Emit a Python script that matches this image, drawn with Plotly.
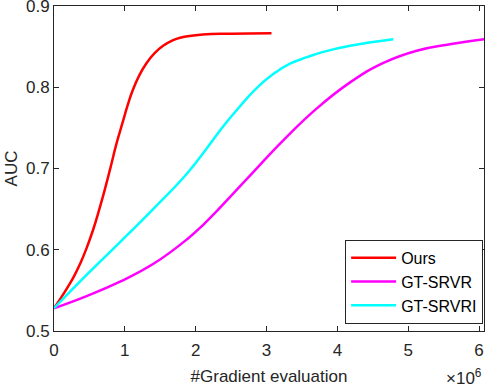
import plotly.graph_objects as go

# AUC vs number of gradient evaluations (x in units of 1e6)
ours_x = [0, 0.1, 0.2, 0.28, 0.38, 0.46, 0.55, 0.64, 0.72, 0.8, 0.88, 0.97, 1.04, 1.11, 1.2,
          1.3, 1.42, 1.54, 1.66, 1.78, 2.1, 2.5, 3.07]
ours_y = [0.528, 0.541, 0.555, 0.567, 0.585, 0.602, 0.624, 0.650, 0.675, 0.702, 0.730, 0.757, 0.778, 0.796, 0.814,
          0.829, 0.842, 0.851, 0.857, 0.861, 0.865, 0.866, 0.8665]

srvr_x = [0, 0.46, 0.94, 1.41, 1.88, 2.11, 2.29, 2.72, 3.24, 3.71, 4.18, 4.65, 5.12, 5.59, 6.07]
srvr_y = [0.528, 0.543, 0.561, 0.583, 0.613, 0.631, 0.647, 0.687, 0.735, 0.774, 0.806, 0.830, 0.845, 0.853, 0.859]

srvri_x = [0, 0.46, 0.94, 1.41, 1.86, 2.15, 2.39, 2.62, 2.86, 3.09, 3.33, 3.57, 3.80, 4.18, 4.79]
srvri_y = [0.528, 0.569, 0.610, 0.651, 0.692, 0.724, 0.752, 0.776, 0.799, 0.816, 0.829, 0.837, 0.8435, 0.851, 0.859]

axis_col = "#262626"
font = "Liberation Sans, Arial, sans-serif"

fig = go.Figure()
fig.add_trace(go.Scatter(x=ours_x, y=ours_y, mode="lines", name="Ours",
                         line=dict(color="#ff0000", width=2.5, shape="spline", smoothing=1.3)))
fig.add_trace(go.Scatter(x=srvr_x, y=srvr_y, mode="lines", name="GT-SRVR",
                         line=dict(color="#ff00ff", width=2.5, shape="spline", smoothing=1.3)))
fig.add_trace(go.Scatter(x=srvri_x, y=srvri_y, mode="lines", name="GT-SRVRI",
                         line=dict(color="#00ffff", width=2.5, shape="spline", smoothing=1.3)))

axis_common = dict(
    showgrid=False, zeroline=False, showline=True, linecolor=axis_col, linewidth=1,
    mirror="ticks", ticks="inside", ticklen=5, tickcolor=axis_col,
    ticklabeloverflow="allow",
    tickfont=dict(size=17, color=axis_col, family=font),
)

fig.update_layout(
    width=487, height=388,
    margin=dict(l=54, r=3, t=6, b=57, autoexpand=False),
    paper_bgcolor="white", plot_bgcolor="white",
    font=dict(family=font, color=axis_col),
    xaxis=dict(range=[0, 6.07], tickvals=[0, 1, 2, 3, 4, 5, 6], ticklabelstandoff=4,
               title=dict(text="#Gradient evaluation", font=dict(size=17), standoff=10),
               **axis_common),
    yaxis=dict(range=[0.5, 0.9], tickvals=[0.5, 0.6, 0.7, 0.8, 0.9], tickformat=".1f",
               title=dict(text="AUC", font=dict(size=17), standoff=4),
               **axis_common),
    legend=dict(x=0.998, y=0.022, xanchor="right", yanchor="bottom",
                bgcolor="white", bordercolor=axis_col, borderwidth=1,
                font=dict(size=16, color="black", family=font),
                tracegroupgap=0, itemwidth=45),
    showlegend=True,
    annotations=[dict(text="×10<sup>6</sup>", x=1.0, y=-0.18, xref="paper", yref="paper",
                      xanchor="right", yanchor="bottom", showarrow=False,
                      font=dict(size=17, color=axis_col, family=font))],
)

fig.write_html("out.html", config={"displayModeBar": False},
               post_script="document.body.style.margin='0px';")
